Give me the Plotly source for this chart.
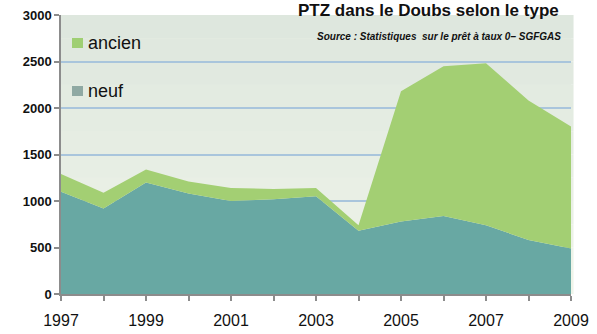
import plotly.graph_objects as go

# Nombre de prêts à taux zéro dans le Doubs, par type de logement
years = list(range(1997, 2010))
neuf = [1100, 920, 1200, 1080, 1000, 1020, 1050, 680, 780, 840, 740, 580, 490]
ancien = [190, 170, 140, 130, 140, 110, 90, 60, 1400, 1610, 1740, 1500, 1310]
year_labels = [str(y) if y % 2 == 1 else "" for y in years]
y_ticks = [0, 500, 1000, 1500, 2000, 2500, 3000]

FONT = "Liberation Sans, Arial, sans-serif"
W, H = 597, 334
ML, MR, MT, MB = 61, 26, 15, 40
PW, PH = W - ML - MR, H - MT - MB


def px(x):
    return (x - ML) / PW


def py(y):
    return (H - MB - y) / PH


series = [
    ("neuf", neuf, "#68a8a3", "#8fa9a3"),
    ("ancien", ancien, "#a3cf73", "#9fcf73"),
]

fig = go.Figure()
for name, vals, fill, _ in series:
    fig.add_trace(go.Scatter(
        x=years, y=vals, name=name, stackgroup="one", mode="none",
        fillcolor=fill, showlegend=False,
    ))

# soft vertical gradient behind the plot
top = (222, 231, 222)
bottom = (239, 244, 233)
n = 12
for i in range(n):
    t = i / (n - 1)
    c = tuple(round(top[k] + (bottom[k] - top[k]) * t) for k in range(3))
    fig.add_shape(
        type="rect", xref="paper", yref="paper",
        x0=0, x1=1.005, y0=1 - (i + 1) / n, y1=1 - i / n,
        fillcolor="rgb(%d,%d,%d)" % c, line=dict(width=0), layer="below",
    )

# legend: small squares with labels, ancien above neuf
for (name, _, _, swatch), yc in zip(reversed(series), (43, 91)):
    fig.add_shape(
        type="rect", xref="paper", yref="paper",
        x0=px(72), x1=px(83), y0=py(yc + 5), y1=py(yc - 5),
        fillcolor=swatch, line=dict(width=0),
    )
    fig.add_annotation(
        text=name, xref="paper", yref="paper", x=px(86), y=py(yc),
        xanchor="left", yanchor="middle", showarrow=False,
        font=dict(family=FONT, size=18, color="#111111"),
    )

fig.add_annotation(
    text="Source : Statistiques  sur le prêt à taux 0– SGFGAS",
    xref="paper", yref="paper", x=px(563), y=py(37),
    xanchor="right", yanchor="middle", showarrow=False,
    font=dict(family=FONT, size=10, color="#111111", weight="bold", style="italic"),
)
fig.add_annotation(
    text="<b>PTZ dans le Doubs selon le type</b>",
    xref="paper", yref="paper", x=0.72, y=py(-1),
    xanchor="center", yanchor="top", showarrow=False,
    font=dict(family=FONT, size=17, color="#111111"),
)

fig.update_layout(
    width=W, height=H,
    margin=dict(l=ML, r=MR, t=MT, b=MB),
    paper_bgcolor="white",
    plot_bgcolor="#e8efe3",
    showlegend=False,
    xaxis=dict(
        range=[1997, 2009], tickvals=years, ticktext=year_labels,
        showgrid=False, zeroline=False, automargin=False,
        showline=True, linecolor="#8c8c8c", linewidth=1.5,
        ticks="outside", ticklen=5, tickcolor="#8c8c8c", tickwidth=1.5,
        ticklabelstandoff=6,
        tickfont=dict(family=FONT, size=16, color="#111111"),
    ),
    yaxis=dict(
        range=[0, 3000], tickvals=y_ticks, automargin=False,
        showgrid=True, gridcolor="#a9c5dc", gridwidth=2,
        zeroline=False,
        showline=True, linecolor="#8c8c8c", linewidth=1.5,
        ticks="outside", ticklen=5, tickcolor="#8c8c8c", tickwidth=1.5,
        tickfont=dict(family=FONT, size=13, color="#111111", weight="bold"),
    ),
)

fig.write_html("out.html")
